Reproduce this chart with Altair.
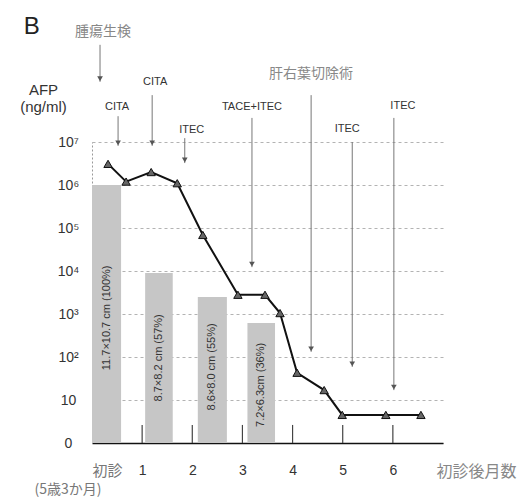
import altair as alt
import pandas as pd

# ---- AFP series (months after first visit, ng/ml) ----
afp_month = [0.32, 0.68, 1.18, 1.70, 2.21, 2.91, 3.45, 3.75, 4.09, 4.63, 4.99, 5.86, 6.56]
afp_value = [3.1e6, 1.2e6, 2.0e6, 1.1e6, 6.9e4, 2800, 2800, 1050, 43, 17, 4.5, 4.5, 4.5]

# ---- tumour size bars ----
bar_start = [0.0, 1.06, 2.11, 3.10]
bar_end = [0.58, 1.61, 2.69, 3.65]
bar_value = [1.0e6, 9.0e3, 2.5e3, 6.2e2]
bar_text = ["11.7×10.7 cm (100%)", "8.7×8.2 cm (57%)", "8.6×8.0 cm (55%)", "7.2×6.3cm (36%)"]
bar_text_exp = [2.91, 1.98, 1.77, 1.35]

# ---- treatments (arrow month, arrow top / tip as log10 value) ----
treat_text = ["腫瘍生検", "CITA", "CITA", "ITEC", "TACE+ITEC", "肝右葉切除術", "ITEC", "ITEC"]
treat_month = [0.16, 0.52, 1.20, 1.85, 3.19, 4.37, 5.19, 6.02]
treat_top_exp = [9.26, 7.60, 8.09, 7.09, 7.56, 8.09, 7.00, 7.56]
treat_tip_exp = [8.40, 6.91, 6.91, 6.51, 4.09, 2.12, 1.77, 1.23]
treat_text_month = [0.22, 0.50, 1.26, 1.99, 3.19, 4.37, 5.09, 6.20]
treat_text_exp = [9.56, 7.81, 8.40, 7.28, 7.81, 8.58, 7.30, 7.84]

tick_months = [1, 2, 3, 4, 5, 6]
y_ticks = [1, 10, 100, 1e3, 1e4, 1e5, 1e6, 1e7]

line_df = pd.DataFrame({"m": afp_month, "v": afp_value})
bar_df = pd.DataFrame({"m": bar_start, "m2": bar_end, "v": bar_value, "v2": [1] * len(bar_value)})
bar_txt_df = pd.DataFrame({
    "m": [(a + b) / 2 for a, b in zip(bar_start, bar_end)],
    "v": [10 ** e for e in bar_text_exp],
    "t": bar_text,
})
arrow_df = pd.DataFrame({
    "m": treat_month,
    "v": [10 ** e for e in treat_top_exp],
    "v2": [10 ** e for e in treat_tip_exp],
})
head_df = pd.DataFrame({"m": treat_month, "v": [10 ** (e + 0.07) for e in treat_tip_exp]})
is_jp = [any(ord(c) > 127 for c in t) for t in treat_text]
lab_df = pd.DataFrame({
    "m": treat_text_month,
    "v": [10 ** e for e in treat_text_exp],
    "t": treat_text,
    "jp": is_jp,
})
tick_df = pd.DataFrame({"m": tick_months, "v": [1] * 6, "v2": [10 ** 0.42] * 6})
extra_df = pd.DataFrame({"m": [-0.48], "v": [10 ** -1.09], "t": ["(5歳3か月)"]})
b_df = pd.DataFrame({"m": [-1.20], "v": [10 ** 9.67], "t": ["B"]})

label_expr = ("datum.value < 5 ? '0' : datum.value < 50 ? '10' : datum.value < 500 ? '10²' : "
              "datum.value < 5000 ? '10³' : datum.value < 50000 ? '10⁴' : datum.value < 500000 ? '10⁵' : "
              "datum.value < 5000000 ? '10⁶' : '10⁷'")

x_axis = alt.Axis(
    values=[0, 1, 2, 3, 4, 5, 6], labelExpr="datum.value == 0 ? '初診' : datum.label",
    ticks=False, tickSize=0, grid=False, labelPadding=27,
    labelFontSize=alt.condition("datum.value == 0", alt.value(15), alt.value(14)),
    labelColor=alt.condition("datum.value == 0", alt.value("#777"), alt.value("#333")),
    labelFont="Liberation Sans, Noto Sans CJK JP", labelBaseline="middle",
    domainColor="#111", domainWidth=1.6,
    title="初診後月数", titleX=384, titleY=28, titleAlign="center", titleBaseline="middle",
    titleFontWeight="normal", titleFontSize=16, titleColor="#888", titleFont="Noto Sans CJK JP",
)
y_axis = alt.Axis(
    values=y_ticks, labelExpr=label_expr, ticks=False, tickSize=0, labelPadding=24,
    labelAlign="center", labelBaseline="middle", labelFontSize=14, labelColor="#333",
    labelFont="Liberation Sans",
    grid=True, gridDash=[3, 3], gridColor="#a0a0a0", gridWidth=0.8,
    domainColor="#999", domainDash=[2, 2], domainWidth=1,
    title=["AFP", "(ng/ml)"], titleAngle=0, titleX=-49, titleY=-60, titleAlign="center",
    titleBaseline="top", titleFontWeight="normal", titleFontSize=15, titleColor="#333",
    titleFont="Liberation Sans", titleLineHeight=17,
)

X = alt.X("m:Q", scale=alt.Scale(domain=[0, 7], nice=False, zero=False), axis=x_axis)
Y = alt.Y("v:Q", scale=alt.Scale(type="log", domain=[1, 1e7], nice=False), axis=y_axis)

bars = alt.Chart(bar_df).mark_rect(color="#c6c6c6").encode(x=X, x2="m2:Q", y=Y, y2="v2:Q")
bar_txt = alt.Chart(bar_txt_df).mark_text(angle=270, fontSize=11, color="#333",
                                           font="Liberation Sans", baseline="middle").encode(x=X, y=Y, text="t:N")
ticks = alt.Chart(tick_df).mark_rule(color="#444", strokeWidth=1.2).encode(x=X, y=Y, y2="v2:Q")
line = alt.Chart(line_df).mark_line(color="#111", strokeWidth=2).encode(x=X, y=Y)
pts = alt.Chart(line_df).mark_point(shape="triangle-up", filled=True, fill="#666", stroke="#111",
                                    strokeWidth=1, size=70, opacity=1).encode(x=X, y=Y)
arrows = alt.Chart(arrow_df).mark_rule(color="#777", strokeWidth=1).encode(x=X, y=Y, y2="v2:Q")
heads = alt.Chart(head_df).mark_point(shape="triangle-down", filled=True, color="#555",
                                      size=32, opacity=1).encode(x=X, y=Y)
lab_en = alt.Chart(lab_df).transform_filter("!datum.jp").mark_text(
    fontSize=11, color="#333", font="Liberation Sans", baseline="middle").encode(x=X, y=Y, text="t:N")
lab_jp = alt.Chart(lab_df).transform_filter("datum.jp").mark_text(
    fontSize=14, color="#888", font="Noto Sans CJK JP", baseline="middle").encode(x=X, y=Y, text="t:N")
extra = alt.Chart(extra_df).mark_text(fontSize=14, color="#777", font="Noto Sans CJK JP",
                                      baseline="middle").encode(x=X, y=Y, text="t:N")
b_lab = alt.Chart(b_df).mark_text(fontSize=24, color="#222", font="Liberation Sans",
                                  baseline="middle").encode(x=X, y=Y, text="t:N")

chart = alt.layer(bars, bar_txt, ticks, line, pts, arrows, heads, lab_en, lab_jp, extra, b_lab).properties(
    width=351, height=301,
    autosize=alt.AutoSizeParams(type="none"),
    padding={"left": 84, "top": 134, "right": 76, "bottom": 60},
    background="white",
).configure_view(stroke=None)

chart.save("out.html", embed_options={"renderer": "svg", "actions": False})
